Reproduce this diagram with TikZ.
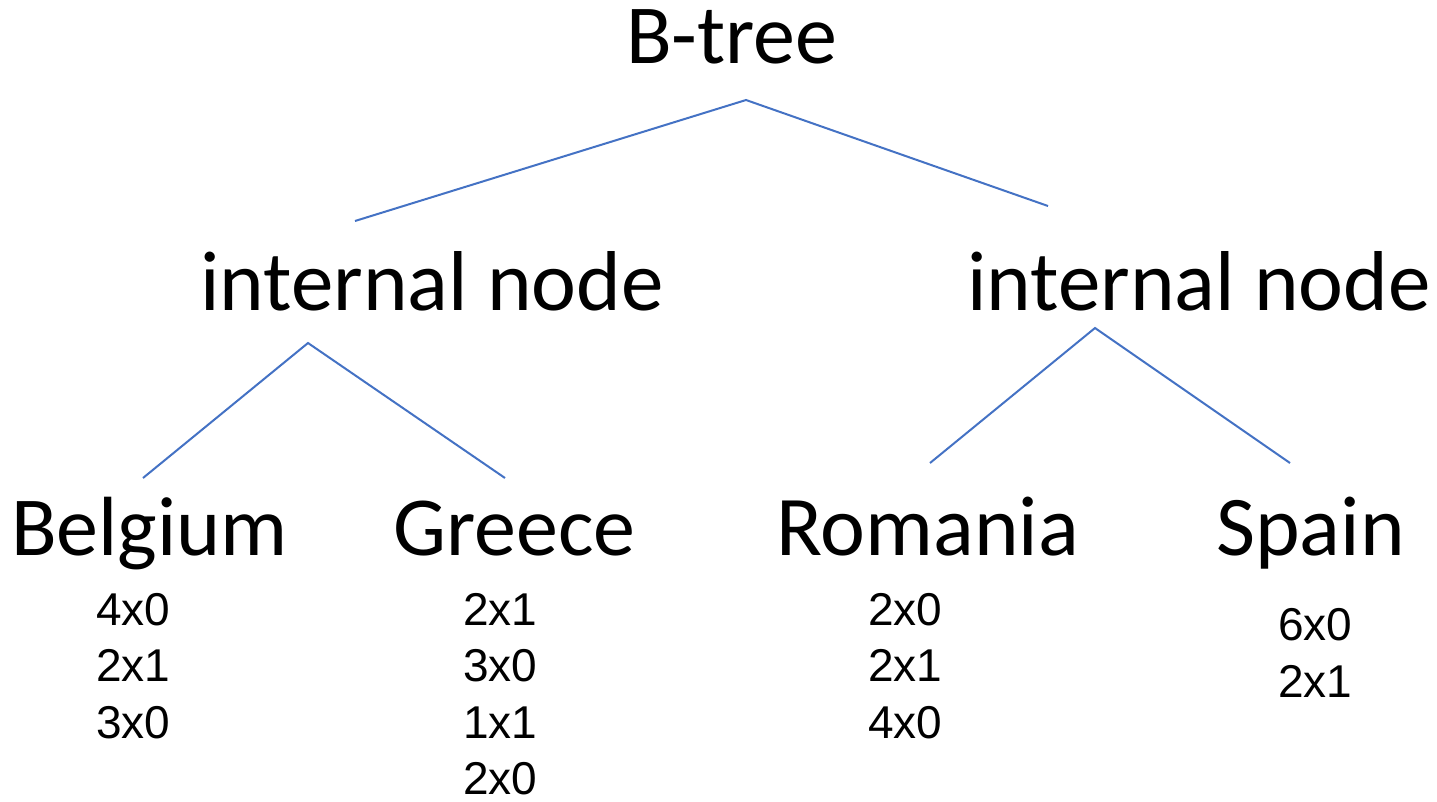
\documentclass[tikz,border=0pt]{standalone}
\usepackage{fontspec}
\setmainfont{Carlito}
\newfontfamily\smallfont{Liberation Sans}
\definecolor{linkblue}{HTML}{4472C4}
\begin{document}
\begin{tikzpicture}[x=1pt,y=-1pt,
  big/.style={anchor=base west,inner sep=0pt,font=\fontsize{84}{100}\selectfont},
  bigger/.style={big,font=\fontsize{85}{100}\selectfont},
  cnt/.style={anchor=base west,inner sep=0pt,align=left,font=\smallfont\fontsize{46}{56.5}\selectfont},
  link/.style={draw=linkblue,line width=2pt}]
\useasboundingbox (0,0) rectangle (1437,801);
\node[big] (bt) at (626,63) {B-tree};
\node[bigger] (inL) at (200,310) {internal node};
\node[bigger] (inR) at (967,310) {internal node};
\node[big] (be) at (11,555) {Belgium};
\node[big] (gr) at (393,555) {Greece};
\node[bigger] (ro) at (776,555) {Romania};
\node[bigger] (sp) at (1216,555) {Spain};
% base anchor of a multi-line node is the baseline of its last line
\node[cnt] (beL) at (96,738) {4x0\\2x1\\3x0};
\node[cnt] (grL) at (463,794.5) {2x1\\3x0\\1x1\\2x0};
\node[cnt] (roL) at (868,738) {2x0\\2x1\\4x0};
\node[cnt] (spL) at (1278,697) {6x0\\2x1};
\coordinate (btS) at (746,100);
\coordinate (inLN) at (355,221);
\coordinate (inRN) at (1048,206);
\coordinate (inLS) at (308,343);
\coordinate (beN) at (143,478);
\coordinate (grN) at (505,478);
\coordinate (inRS) at (1095,328);
\coordinate (roN) at (930,463);
\coordinate (spN) at (1290,463);
\draw[link] (inLN) -- (btS) -- (inRN);
\draw[link] (beN) -- (inLS) -- (grN);
\draw[link] (roN) -- (inRS) -- (spN);
\end{tikzpicture}
\end{document}
